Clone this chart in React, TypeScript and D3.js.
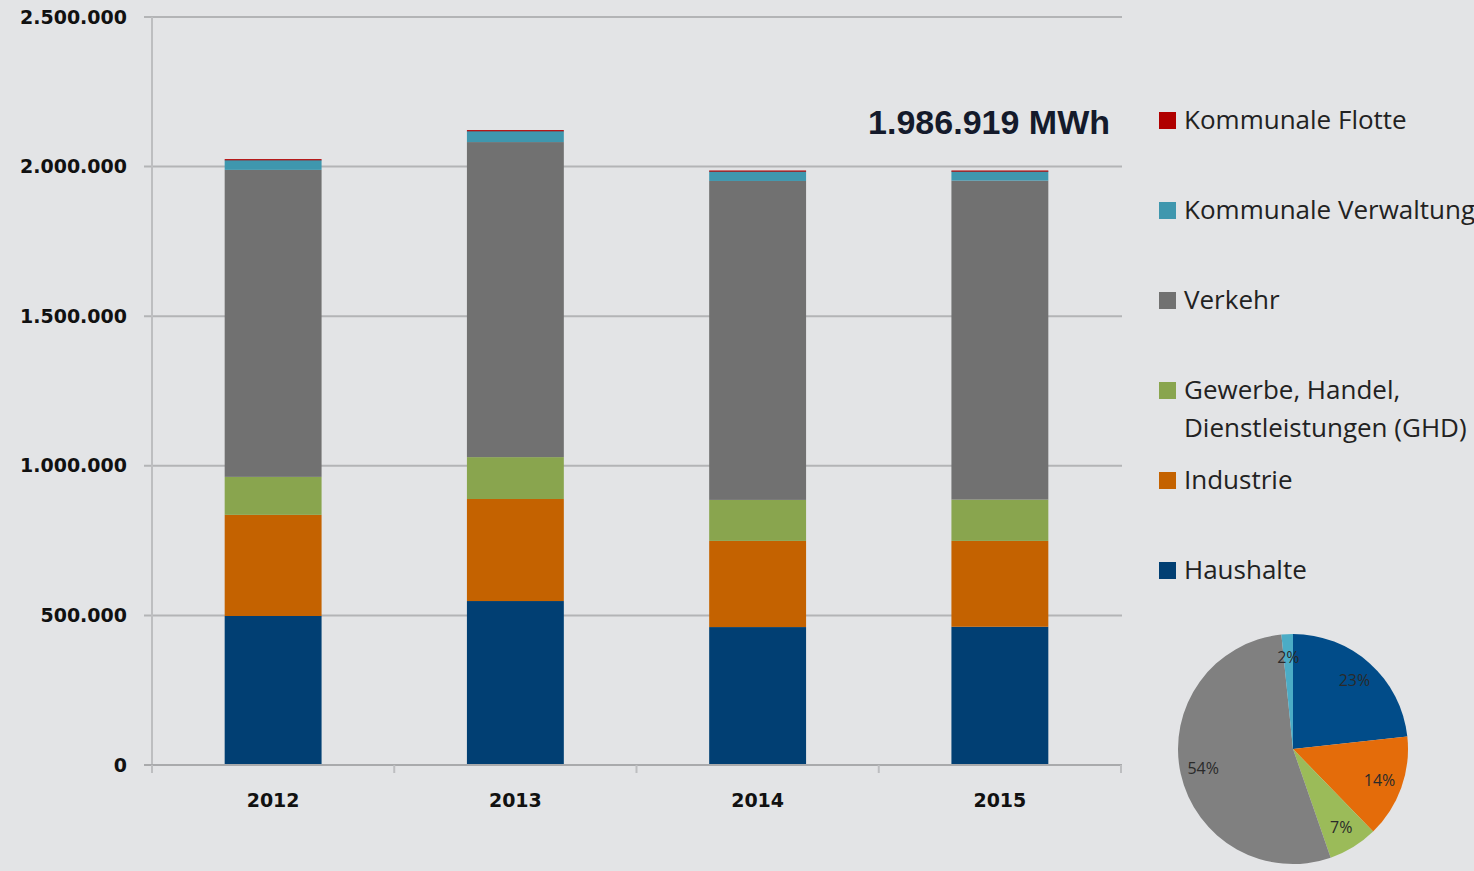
import React, { useRef, useEffect } from 'react';
import * as d3 from 'd3';

const years = ['2012', '2013', '2014', '2015'];
const haushalte = [498000, 548000, 461000, 462000];
const industrie = [338000, 341000, 288000, 287000];
const ghd = [127000, 140000, 137000, 138000];
const verkehr = [1026000, 1053000, 1066000, 1066000];
const verwaltung = [33000, 37000, 33000, 32000];
const flotte = [3000, 3000, 2000, 2000];
const yTicks = [0, 500000, 1000000, 1500000, 2000000, 2500000];
const totalLabel = '1.986.919 MWh';

const seriesNames = [
  'Haushalte',
  'Industrie',
  'Gewerbe, Handel, Dienstleistungen (GHD)',
  'Verkehr',
  'Kommunale Verwaltung',
  'Kommunale Flotte',
];
const seriesValues = [haushalte, industrie, ghd, verkehr, verwaltung, flotte];
const barColors = ['#013f73', '#c46200', '#89a54e', '#717171', '#3f97ae', '#b00000'];
const pieColors = ['#014c89', '#e46c0a', '#9bbb59', '#808080', '#4bacc6', '#c00000'];

const App = () => {
  const ref = useRef<SVGSVGElement | null>(null);

  useEffect(() => {
    if (!ref.current) return;
    const svg = d3.select(ref.current);
    svg.selectAll('*').remove();

    const W = 1474;
    const H = 871;
    const plot = { left: 152, right: 1121, top: 17, bottom: 765 };

    svg.append('rect').attr('width', W).attr('height', H).attr('fill', '#e3e4e6');

    const de = d3.formatLocale({ decimal: ',', thousands: '.', grouping: [3], currency: ['', '€'] });
    const fmt = de.format(',d');

    const x = d3.scaleBand<string>()
      .domain(years)
      .range([plot.left, plot.right])
      .paddingInner(0.6)
      .paddingOuter(0.3);
    const y = d3.scaleLinear().domain([0, 2500000]).range([plot.bottom, plot.top]);

    // gridlines
    svg.append('g')
      .selectAll('line')
      .data(yTicks.filter(d => d > 0))
      .enter()
      .append('line')
      .attr('x1', 144)
      .attr('x2', plot.right + 1)
      .attr('y1', d => y(d))
      .attr('y2', d => y(d))
      .attr('stroke', '#b3b4b6')
      .attr('stroke-width', 2);

    // y axis line
    svg.append('line')
      .attr('x1', plot.left).attr('x2', plot.left)
      .attr('y1', plot.top).attr('y2', plot.bottom + 7)
      .attr('stroke', '#bdbec0').attr('stroke-width', 2);

    // y tick labels
    svg.append('g')
      .selectAll('text')
      .data(yTicks)
      .enter()
      .append('text')
      .attr('x', 127)
      .attr('y', d => y(d))
      .attr('dy', '0.35em')
      .attr('text-anchor', 'end')
      .attr('font-family', 'DejaVu Sans')
      .attr('font-weight', 'bold')
      .attr('font-size', 19)
      .attr('fill', '#111')
      .text(d => fmt(d));

    // stacked bars
    const rows = years.map((yr, i) => {
      const row: any = { year: yr };
      seriesNames.forEach((s, k) => { row[s] = seriesValues[k][i]; });
      return row;
    });
    const stacked = d3.stack<any>().keys(seriesNames)(rows);

    stacked.forEach((layer, k) => {
      svg.append('g')
        .selectAll('rect')
        .data(layer)
        .enter()
        .append('rect')
        .attr('x', d => x(d.data.year) as number)
        .attr('width', x.bandwidth())
        .attr('y', d => y(d[1]))
        .attr('height', d => Math.max(1.2, y(d[0]) - y(d[1])))
        .attr('fill', barColors[k]);
    });

    // x axis
    svg.append('line')
      .attr('x1', 144).attr('x2', plot.right + 1)
      .attr('y1', plot.bottom).attr('y2', plot.bottom)
      .attr('stroke', '#a9aaac').attr('stroke-width', 2);
    const step = x.step();
    const tickXs = d3.range(years.length + 1).map(i => plot.left + i * step);
    svg.append('g')
      .selectAll('line')
      .data(tickXs)
      .enter()
      .append('line')
      .attr('x1', d => d).attr('x2', d => d)
      .attr('y1', plot.bottom).attr('y2', plot.bottom + 8)
      .attr('stroke', '#bdbec0').attr('stroke-width', 2);
    svg.append('g')
      .selectAll('text')
      .data(years)
      .enter()
      .append('text')
      .attr('x', d => (x(d) as number) + x.bandwidth() / 2)
      .attr('y', 807)
      .attr('text-anchor', 'middle')
      .attr('font-family', 'DejaVu Sans')
      .attr('font-weight', 'bold')
      .attr('font-size', 19)
      .attr('fill', '#111')
      .text(d => d);

    // total label
    svg.append('text')
      .attr('x', 1110)
      .attr('y', 134)
      .attr('text-anchor', 'end')
      .attr('font-family', 'Liberation Sans')
      .attr('font-weight', 'bold')
      .attr('font-size', 34)
      .attr('fill', '#141a2b')
      .text(totalLabel);

    // legend
    const legendRows = [
      { k: 5, y: 120, lines: ['Kommunale Flotte'] },
      { k: 4, y: 210, lines: ['Kommunale Verwaltung'] },
      { k: 3, y: 300, lines: ['Verkehr'] },
      { k: 2, y: 390, lines: ['Gewerbe, Handel,', 'Dienstleistungen (GHD)'] },
      { k: 1, y: 480, lines: ['Industrie'] },
      { k: 0, y: 570, lines: ['Haushalte'] },
    ];
    const lg = svg.append('g');
    legendRows.forEach(r => {
      lg.append('rect')
        .attr('x', 1159).attr('y', r.y - 8)
        .attr('width', 17).attr('height', 17)
        .attr('fill', barColors[r.k]);
      r.lines.forEach((t, j) => {
        lg.append('text')
          .attr('x', 1184)
          .attr('y', r.y + j * 38)
          .attr('dy', '0.35em')
          .attr('font-family', 'Open Sans')
          .attr('font-size', 26)
          .attr('fill', '#222')
          .text(t);
      });
    });

    // pie for 2015
    const last = years.length - 1;
    const pieData = seriesNames.slice(0, 5).map((s, k) => ({ k, v: seriesValues[k][last] }));
    const total = d3.sum(seriesValues, s => s[last]);
    const pie = d3.pie<any>().value(d => d.v).sort(null);
    const r = 115;
    const arc = d3.arc<any>().innerRadius(0).outerRadius(r);
    const labelArc = d3.arc<any>().innerRadius(r * 0.8).outerRadius(r * 0.8);
    const pg = svg.append('g').attr('transform', 'translate(1293,749)');
    const arcs = pie(pieData);
    pg.selectAll('path')
      .data(arcs)
      .enter()
      .append('path')
      .attr('d', arc)
      .attr('fill', d => pieColors[d.data.k]);
    pg.selectAll('text')
      .data(arcs)
      .enter()
      .append('text')
      .attr('transform', d => `translate(${labelArc.centroid(d)})`)
      .attr('text-anchor', 'middle')
      .attr('dy', '0.35em')
      .attr('font-family', 'Open Sans')
      .attr('font-size', 16)
      .attr('fill', '#2a2a2a')
      .text(d => `${Math.round((d.data.v / total) * 100)}%`);
  }, []);

  return (
    <svg
      ref={ref}
      width={1474}
      height={871}
      style={{ position: 'absolute', left: 0, top: 0, display: 'block' }}
    />
  );
};

export default App;
